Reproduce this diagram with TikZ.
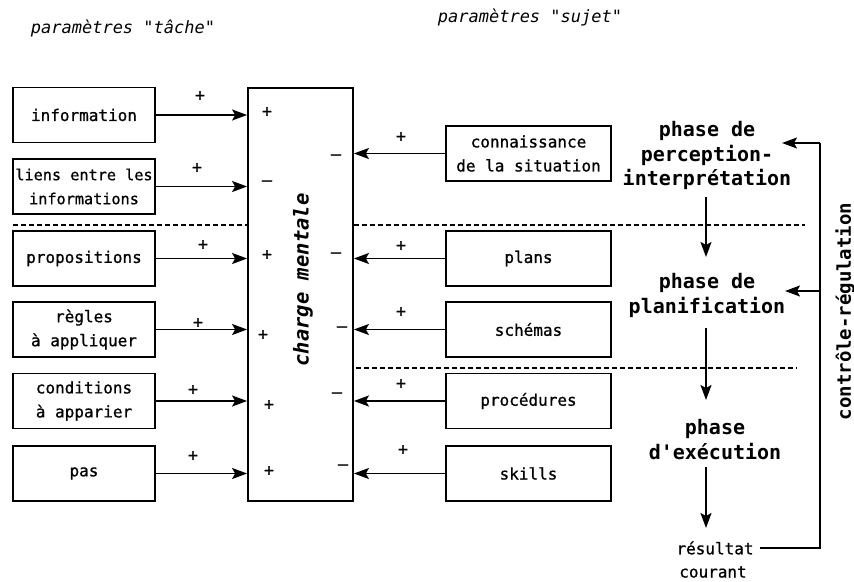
\documentclass[tikz,border=0pt]{standalone}
\usepackage{fontspec}
\usetikzlibrary{arrows.meta}
\newfontfamily\gen{DejaVu Sans Mono}
\newfontfamily\genheavy[FakeBold=0.8]{DejaVu Sans Mono}
\tikzset{
  every node/.style={inner sep=0pt, font=\genheavy\fontsize{16}{24}\selectfont},
  boxnode/.style={draw, line width=1.8pt, minimum height=55pt, align=center},
  leftbox/.style={boxnode, minimum width=142pt},
  rightbox/.style={boxnode, minimum width=165pt},
  conn/.style={line width=1.7pt},
  arr/.style={conn, -{Stealth[length=15pt, width=11pt, inset=3pt]}},
  dashline/.style={line width=1.3pt, dash pattern=on 5pt off 3pt},
  phasetxt/.style={align=center, font=\gen\bfseries\fontsize{20}{24.5}\selectfont},
  headtxt/.style={font=\gen\itshape\fontsize{17}{20}\selectfont},
  sign/.style={font=\genheavy\fontsize{17}{18}\selectfont}
}
\begin{document}
\begin{tikzpicture}[x=1pt, y=-1pt]
\useasboundingbox (0,0) rectangle (854,581);
\fill[white] (0,0) rectangle (854,581);

% headers
\node[headtxt] (htache) at (123,28) {paramètres "tâche"};
\node[headtxt] (hsujet) at (530,17) {paramètres "sujet"};

% central box
\node[draw, line width=1.8pt, minimum width=105pt, minimum height=413pt] (charge) at (300.5,294.5) {};
\node[rotate=90, font=\gen\bfseries\itshape\fontsize{20.5}{20}\selectfont] (chargetxt) at (303,280) {charge mentale};

% task parameters
\node[leftbox] (info)   at (84,115)   {information};
\node[leftbox, font=\genheavy\fontsize{15.2}{24}\selectfont] (liens) at (84,186.5) {liens entre les\\informations};
\node[leftbox] (props)  at (84,258.5) {propositions};
\node[leftbox] (regles) at (84,329.5) {règles\\à appliquer};
\node[leftbox] (cond)   at (84,401)   {conditions\\à apparier};
\node[leftbox] (pas)    at (84,473.5) {pas};

\foreach \b in {info,liens,props,regles,cond,pas}
  \draw[arr] (\b.east) -- (\b.east -| charge.west);

% subject parameters
\node[rightbox] (connais) at (528.5,153.5) {connaissance\\de la situation};
\node[rightbox] (plans)   at (528.5,258.5) {plans};
\node[rightbox] (schemas) at (528.5,329.5) {schémas};
\node[rightbox] (proc)    at (528.5,401)   {procédures};
\node[rightbox] (skills)  at (528.5,473.5) {skills};

\foreach \b in {connais,plans,schemas,proc,skills}
  \draw[arr] (\b.west) -- (\b.west -| charge.east);

% signs on the task side
\node[sign] (pi1) at (200,96)  {+};
\node[sign] (pi2) at (197,168) {+};
\node[sign] (pi3) at (203,245) {+};
\node[sign] (pi4) at (198,323) {+};
\node[sign] (pi5) at (193,390) {+};
\node[sign] (pi6) at (193,456) {+};
\node[sign] (ci1) at (267,112) {+};
\node[sign] (ci2) at (267,183) {–};
\node[sign] (ci3) at (267,255) {+};
\node[sign] (ci4) at (263,335) {+};
\node[sign] (ci5) at (269,405) {+};
\node[sign] (ci6) at (269,471) {+};

% signs on the subject side
\node[sign] (co1) at (336,157) {–};
\node[sign] (co2) at (336,255) {–};
\node[sign] (co3) at (342,329) {–};
\node[sign] (co4) at (337,395) {–};
\node[sign] (co5) at (343,467) {–};
\node[sign] (po1) at (401,137) {+};
\node[sign] (po2) at (401,246) {+};
\node[sign] (po3) at (401,312) {+};
\node[sign] (po4) at (401,384) {+};
\node[sign] (po5) at (403,450) {+};

% separators
\coordinate (d1a) at (13,225);
\coordinate (d1b) at (805,225);
\coordinate (d2b) at (797,368);
\draw[dashline] (d1a) -- (d1a -| charge.west);
\draw[dashline] (d1a -| charge.east) -- (d1b);
\draw[dashline] (d2b -| charge.east) ++(2,0) -- (d2b);

% phases
\node[phasetxt] (perc) at (707,155.5) {phase de\\perception-\\interprétation};
\node[phasetxt] (plan) at (707,295.5) {phase de\\planification};
\node[phasetxt] (exec) at (715,439.5) {phase\\d'exécution};
\node (res)  at (715,548) {résultat};
\node (cour) at (713,572) {courant};

\coordinate (v1a) at (706,197);
\coordinate (v1b) at (706,257);
\coordinate (v2a) at (706,328);
\coordinate (v2b) at (706,400);
\coordinate (v3a) at (706,467);
\coordinate (v3b) at (706,528);
\draw[arr] (v1a) -- (v1b);
\draw[arr] (v2a) -- (v2b);
\draw[arr] (v3a) -- (v3b);

% control loop
\coordinate (fbtop) at (820,143);
\coordinate (fbmid) at (820,291);
\draw[conn] ([xshift=6pt]res.east) -| (fbtop);
\draw[arr] (fbtop) -- ++(-38,0);
\draw[arr] (fbmid) -- ++(-35,0);
\node[rotate=90, font=\gen\bfseries\fontsize{19}{19}\selectfont] (ctrl) at (845,311.5) {contrôle-régulation};
\end{tikzpicture}
\end{document}
